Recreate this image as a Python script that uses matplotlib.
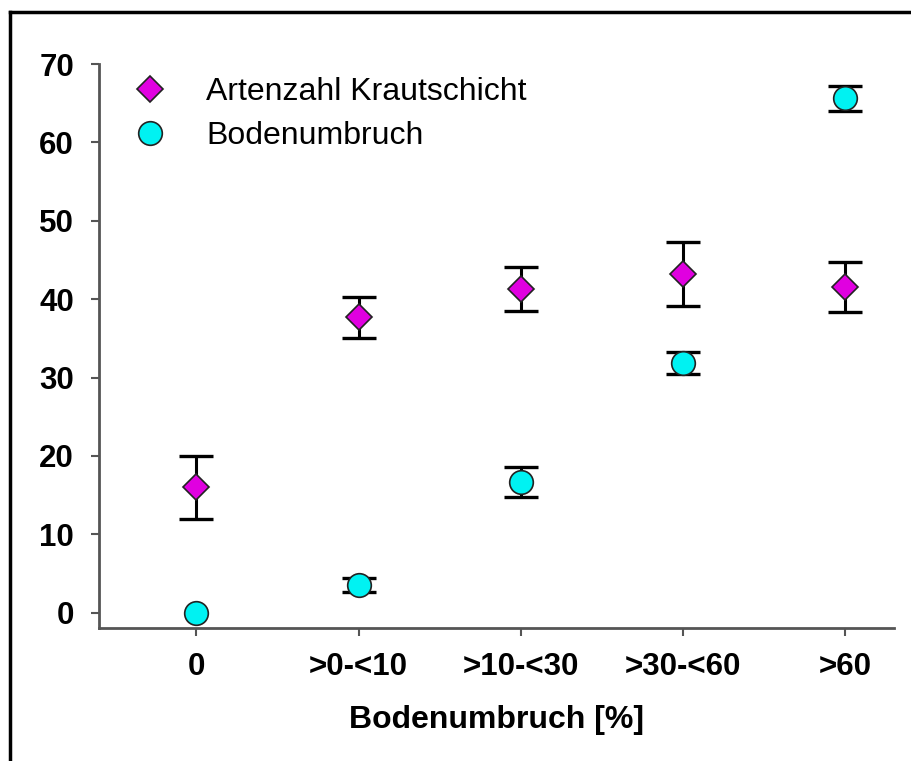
import matplotlib.pyplot as plt
from matplotlib.lines import Line2D

categories = ['0', '>0-<10', '>10-<30', '>30-<60', '>60']

arten_mean = [16.0, 37.7, 41.3, 43.2, 41.6]
arten_err = [4.0, 2.6, 2.8, 4.1, 3.2]

boden_mean = [0.0, 3.5, 16.7, 31.9, 65.6]
boden_err = [0.0, 0.9, 1.9, 1.4, 1.6]

plt.rcParams['font.family'] = ['Liberation Sans', 'DejaVu Sans']

fig = plt.figure(figsize=(9.11, 7.61), dpi=100)
ax = fig.add_axes([99 / 911, 1 - 628 / 761, (894 - 99) / 911, (628 - 64) / 761])

x = list(range(len(categories)))
spine_col = '#555555'


def draw_err(xs, ys, es):
    # only where there is a real error value (no cap for zero)
    keep = [i for i in range(len(xs)) if es[i] > 0]
    ax.errorbar([xs[i] for i in keep], [ys[i] for i in keep], yerr=[es[i] for i in keep],
                fmt='none', ecolor='black', elinewidth=2.2, capsize=12.5, capthick=2.4, zorder=2)


draw_err(x, arten_mean, arten_err)
draw_err(x, boden_mean, boden_err)
ax.plot(x, arten_mean, linestyle='none', marker='D', markersize=13,
        markerfacecolor='#e000e0', markeredgecolor='#222222', markeredgewidth=1.2,
        label='Artenzahl Krautschicht', zorder=3)
ax.plot(x, boden_mean, linestyle='none', marker='o', markersize=17,
        markerfacecolor='#00f2f2', markeredgecolor='#222222', markeredgewidth=1.2,
        label='Bodenumbruch', zorder=3)

ax.set_xlim(-0.6, 4.3)
ax.set_ylim(-1.95, 70)
ax.set_xticks(x)
ax.set_xticklabels(categories)
ax.set_yticks(range(0, 71, 10))

for s in ['top', 'right']:
    ax.spines[s].set_visible(False)
for s in ['left', 'bottom']:
    ax.spines[s].set_color(spine_col)
    ax.spines[s].set_linewidth(2)
ax.tick_params(axis='both', colors=spine_col, width=1.5, length=6, direction='out')
ax.tick_params(axis='y', pad=12)
ax.tick_params(axis='x', pad=11)
for lab in ax.get_xticklabels() + ax.get_yticklabels():
    lab.set_color('black')
    lab.set_fontweight('bold')
    lab.set_fontsize(22.5)

ax.set_xlabel('Bodenumbruch [%]', fontsize=23, fontweight='bold', labelpad=17)

ax.legend(loc='upper left', bbox_to_anchor=(0.008, 1.0), frameon=False,
          fontsize=23, handletextpad=0.75, labelspacing=0.45, borderaxespad=0)

# outer frame lines (left and top)
fig.add_artist(Line2D([10 / 911, 10 / 911], [0, 1 - 12 / 761], color='black', linewidth=2.5))
fig.add_artist(Line2D([10 / 911, 1], [1 - 12 / 761, 1 - 12 / 761], color='black', linewidth=2.5))

fig.savefig('out.png', dpi=100)
